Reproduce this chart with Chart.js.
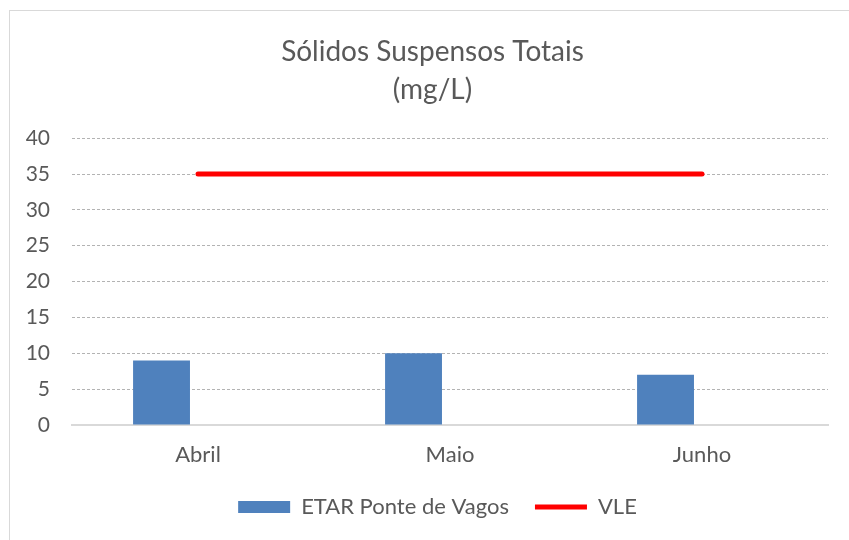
<!DOCTYPE html>
<html>
<head>
<meta charset="utf-8">
<script src="https://cdn.jsdelivr.net/npm/chart.js@4/dist/chart.umd.min.js"></script>
<style>
html,body{margin:0;padding:0;background:#fff;}
#wrap{position:relative;width:849px;height:540px;overflow:hidden;}
#frame{position:absolute;left:9px;top:10px;width:900px;height:600px;border:1px solid #d9d9d9;box-sizing:border-box;}
canvas{position:absolute;left:0;top:0;}
</style>
</head>
<body>
<div id="wrap"><div id="frame"></div><canvas id="c" width="849" height="540"></canvas></div>
<script>
const categories = ['Abril', 'Maio', 'Junho'];
const etarValues = [9, 10, 7];
const vleValues = [35, 35, 35];
const yTicks = [0, 5, 10, 15, 20, 25, 30, 35, 40];
const titleLines = ['Sólidos Suspensos Totais', '(mg/L)'];
const seriesNames = ['ETAR Ponte de Vagos', 'VLE'];

const FONT = 'Lato, "Open Sans", sans-serif';
const TXT = '#595959';

// Keeps the legend block at a fixed height and centres title/legend on the frame.
const framePlugin = {
  id: 'frameLayout',
  beforeUpdate(chart) {
    const lg = chart.legend;
    if (lg && !lg._patched) {
      const orig = lg.fit.bind(lg);
      lg.fit = function () { orig(); this.height = 70; };
      lg._patched = true;
    }
  },
  afterLayout(chart) {
    if (chart.legend) { chart.legend.left = 26; chart.legend.right = 849; }
    if (chart.titleBlock) { chart.titleBlock.left = 16; chart.titleBlock.right = 849; }
  }
};

new Chart(document.getElementById('c'), {
  data: {
    labels: categories,
    datasets: [
      {
        type: 'bar', label: seriesNames[0], data: etarValues,
        backgroundColor: '#4F81BD', borderColor: '#4F81BD', borderWidth: 0,
        categoryPercentage: 0.579, barPercentage: 0.78,
        pointStyle: 'rect', order: 2
      },
      {
        type: 'bar', label: '_spacer', data: categories.map(() => null),
        backgroundColor: 'rgba(0,0,0,0)',
        categoryPercentage: 0.579, barPercentage: 0.78, order: 3
      },
      {
        type: 'line', label: seriesNames[1], data: vleValues,
        borderColor: '#FF0000', backgroundColor: '#FF0000', borderWidth: 5,
        borderCapStyle: 'round', pointRadius: 0, pointHoverRadius: 0,
        pointStyle: 'line', fill: false, order: 1
      }
    ]
  },
  plugins: [framePlugin],
  options: {
    responsive: false,
    animation: false,
    layout: { padding: { left: 0, right: 21, top: 33, bottom: 0 } },
    plugins: {
      title: {
        display: true, text: titleLines, color: TXT,
        font: { family: FONT, size: 28, weight: 'normal', lineHeight: 1.36 },
        padding: { top: 0, bottom: 29 }
      },
      legend: {
        position: 'bottom',
        labels: {
          usePointStyle: true, pointStyleWidth: 52, boxHeight: 12,
          color: TXT, font: { family: FONT, size: 22 }, padding: 26,
          filter: (item) => item.text !== '_spacer',
          sort: (a, b) => a.datasetIndex - b.datasetIndex
        }
      },
      tooltip: { enabled: false }
    },
    scales: {
      x: {
        afterFit: (axis) => { axis.height = 45; },
        grid: { display: false, drawTicks: false },
        border: { display: true, color: '#d9d9d9', width: 2 },
        ticks: { color: TXT, font: { family: FONT, size: 22 }, padding: 17 }
      },
      y: {
        min: 0, max: 40,
        afterBuildTicks: (axis) => { axis.ticks = yTicks.map(v => ({ value: v })); },
        afterFit: (axis) => { axis.width = 72; },
        grid: { color: '#b3b3b3', lineWidth: 1, drawTicks: false },
        border: { display: false, dash: [3, 2] },
        ticks: { color: TXT, font: { family: FONT, size: 21 }, padding: 22 }
      }
    }
  }
});
</script>
</body>
</html>
